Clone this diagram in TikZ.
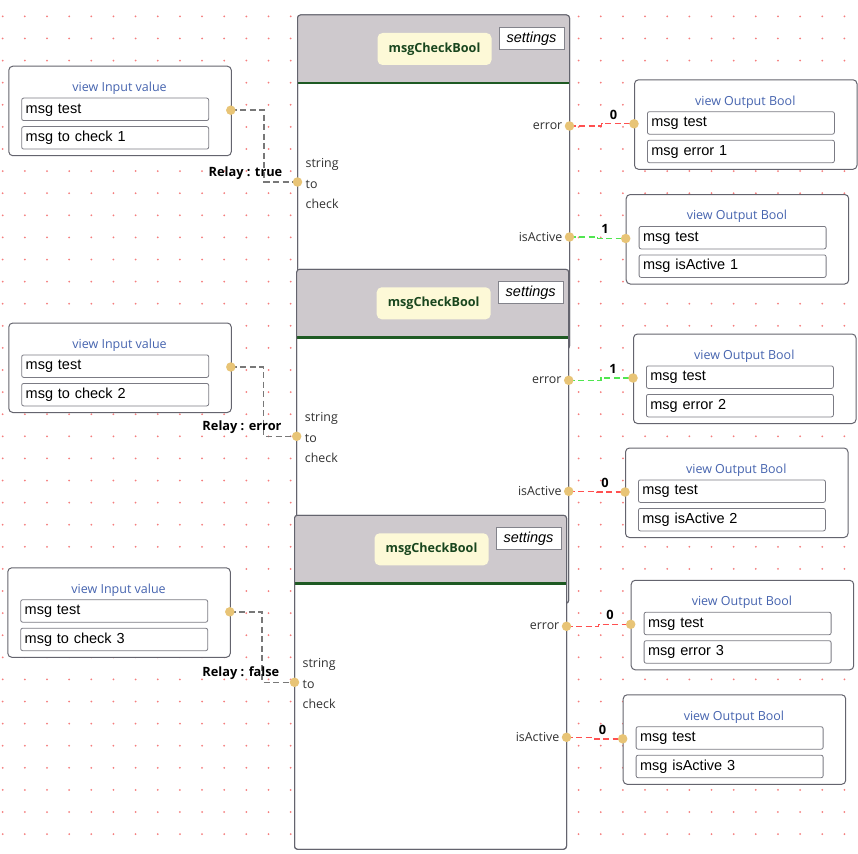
\documentclass[tikz,border=0pt]{standalone}
\usepackage{fontspec}
\setmainfont{Liberation Sans}
\newfontfamily\uifont{Open Sans}
\usetikzlibrary{calc}

\definecolor{gridred}{RGB}{245,125,125}
\definecolor{hdrgrey}{RGB}{206,201,205}
\definecolor{hdrgreen}{RGB}{30,90,35}
\definecolor{titlefill}{RGB}{253,249,215}
\definecolor{titletext}{RGB}{25,70,30}
\definecolor{frame}{RGB}{100,100,110}
\definecolor{viewblue}{RGB}{70,100,175}
\definecolor{portfill}{RGB}{232,196,118}
\definecolor{wirered}{RGB}{255,80,80}
\definecolor{wiregreen}{RGB}{80,230,80}
\definecolor{wiregrey}{RGB}{120,120,120}
\definecolor{labelgrey}{RGB}{50,50,50}

\tikzset{
 blockframe/.style={draw=frame, line width=1pt, rounded corners=3pt},
 titlebox/.style={fill=titlefill, rounded corners=5pt, minimum width=114pt, minimum height=32pt, inner sep=0pt, font=\uifont\bfseries\fontsize{12.6}{14}\selectfont, text=titletext},
 settingsbox/.style={draw=frame!80, fill=white, line width=1pt, minimum width=65pt, minimum height=22pt, inner sep=0pt, font=\itshape\fontsize{14.5}{16}\selectfont},
 portlabel/.style={inner sep=0pt, font=\uifont\fontsize{12.4}{14}\selectfont, text=labelgrey},
 viewframe/.style={draw=frame, line width=1pt, rounded corners=4pt, fill=white, minimum width=222.5pt, minimum height=89.5pt, anchor=north west, inner sep=0pt},
 viewtitle/.style={inner sep=0pt, font=\uifont\fontsize{12.5}{14}\selectfont, text=viewblue},
 fieldbox/.style={draw=frame!85, line width=0.8pt, rounded corners=2pt, fill=white, minimum width=187pt, minimum height=22.5pt, text width=179pt, inner xsep=4pt, inner ysep=0pt, align=left, anchor=north west, font=\fontsize{14.5}{16}\selectfont, text height=10.5pt, text depth=3pt},
 port/.style={circle, fill=portfill, minimum size=9.5pt, inner sep=0pt},
 wire/.style={line width=1.4pt, dash pattern=on 6pt off 3.5pt},
 relay/.style={wire, draw=wiregrey},
 wirelabel/.style={inner sep=0pt, font=\uifont\bfseries\fontsize{12.8}{14}\selectfont},
}

% block: #1 name, #2 left, #3 top
\newcommand\cbblock[3]{%
 \path[blockframe, fill=white] (#2,#3) rectangle ++(272,334);
 \begin{scope}
  \clip[rounded corners=3pt] (#2,#3) rectangle ++(272,334);
  \fill[hdrgrey] (#2,#3) rectangle ++(272,68);
 \end{scope}
 \draw[hdrgreen, line width=2.5pt] (#2,#3+68) -- ++(272,0);
 \draw[blockframe] (#2,#3) rectangle ++(272,334);
 \node[titlebox] (#1title) at (#2+137, #3+34) {msgCheckBool};
 \node[settingsbox] (#1set) at (#2+234, #3+23.3) {settings};
 \node[portlabel, anchor=west] (#1sa) at (#2+8,#3+149) {string};
 \node[portlabel, anchor=west] (#1sb) at (#2+8,#3+169) {to};
 \node[portlabel, anchor=west] (#1sc) at (#2+8,#3+189) {check};
 \coordinate (#1in) at (#2, #3+167);
 \coordinate (#1err) at (#2+272, #3+111);
 \coordinate (#1act) at (#2+272, #3+222);
 \node[portlabel, anchor=east] (#1errl) at (#2+265, #3+111) {error};
 \node[portlabel, anchor=east] (#1actl) at (#2+265, #3+222) {isActive};
}

% view node: #1 name, #2 left, #3 top, #4 title, #5 second field, #6 port x offset
\newcommand\vnode[6]{%
 \node[viewframe] (#1) at (#2,#3) {};
 \node[viewtitle] (#1t) at (#2+111.25, #3+22.5) {#4};
 \node[fieldbox] (#1fa) at (#2+13,#3+32) {msg test};
 \node[fieldbox] (#1fb) at (#2+13,#3+60.5) {#5};
 \coordinate (#1p) at (#2+#6,#3+44.5);
}

\begin{document}
\begin{tikzpicture}[x=1pt, y=-1pt]
\useasboundingbox (0,0) rectangle (858,853);
\fill[white] (0,0) rectangle (858,853);

% grid of dots
\foreach \i in {0,...,38} {
 \foreach \j in {0,...,37} {
  \fill[gridred] (2.7+22.15*\i, 16.4+22.1*\j) circle (1pt);
 }
}

% blocks
\cbblock{ba}{297.5}{15}
\cbblock{bb}{296.7}{269.3}
\cbblock{bc}{294.5}{515.3}

% input views
\vnode{ia}{8.3}{65.7}{view Input value}{msg to check 1}{222.5}
\vnode{ib}{8.3}{322.5}{view Input value}{msg to check 2}{222.5}
\vnode{ic}{7.3}{567.3}{view Input value}{msg to check 3}{222.5}

% output views
\vnode{oa}{634}{79.3}{view Output Bool}{msg error 1}{0}
\vnode{ob}{625.7}{194}{view Output Bool}{msg isActive 1}{0}
\vnode{oc}{633}{333.5}{view Output Bool}{msg error 2}{0}
\vnode{od}{625}{447.5}{view Output Bool}{msg isActive 2}{0}
\vnode{oe}{630.7}{579.8}{view Output Bool}{msg error 3}{0}
\vnode{of}{622.7}{694.3}{view Output Bool}{msg isActive 3}{0}

% relay wires
\draw[relay] (iap) -| ($(iap)!0.5!(bain)$) |- (bain);
\draw[relay] (ibp) -| ($(ibp)!0.5!(bbin)$) |- (bbin);
\draw[relay] (icp) -| ($(icp)!0.5!(bcin)$) |- (bcin);

% output wires
\draw[wire, draw=wirered] (baerr) -| ($(baerr)!0.5!(oap)$) |- (oap);
\draw[wire, draw=wiregreen] (baact) -| ($(baact)!0.5!(obp)$) |- (obp);
\draw[wire, draw=wiregreen] (bberr) -| ($(bberr)!0.5!(ocp)$) |- (ocp);
\draw[wire, draw=wirered] (bbact) -| ($(bbact)!0.5!(odp)$) |- (odp);
\draw[wire, draw=wirered] (bcerr) -| ($(bcerr)!0.5!(oep)$) |- (oep);
\draw[wire, draw=wirered] (bcact) -| ($(bcact)!0.5!(ofp)$) |- (ofp);

% wire labels
\node[wirelabel, anchor=east] (ra) at (282.5,173.3) {Relay : true};
\node[wirelabel, anchor=east] (rb) at (281.7,427.3) {Relay : error};
\node[wirelabel, anchor=east] (rc) at (279.5,673.3) {Relay : false};
\node[wirelabel] (la) at (613.5,115) {0};
\node[wirelabel] (lb) at (605,229) {1};
\node[wirelabel] (lc) at (613,369) {1};
\node[wirelabel] (ld) at (605,483) {0};
\node[wirelabel] (le) at (610,615) {0};
\node[wirelabel] (lf) at (602.5,730) {0};

% port dots
\foreach \p in {iap,ibp,icp,bain,bbin,bcin,baerr,baact,bberr,bbact,bcerr,bcact,oap,obp,ocp,odp,oep,ofp} {
 \node[port] (dot\p) at (\p) {};
}
\end{tikzpicture}
\end{document}
